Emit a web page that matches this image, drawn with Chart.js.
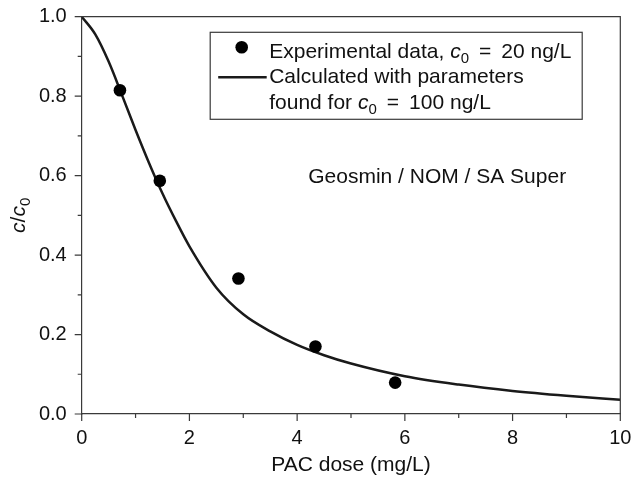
<!DOCTYPE html>
<html><head><meta charset="utf-8">
<script src="https://cdn.jsdelivr.net/npm/chart.js@4/dist/chart.umd.min.js"></script>
<style>html,body{margin:0;padding:0;background:#fff;overflow:hidden}#wrap{width:631px;height:479px}</style>
</head><body><div id="wrap"><canvas id="c" width="631" height="479"></canvas></div>
<script>
// ---- data ----
const doseExp = [0.71, 1.45, 2.91, 4.34, 5.82];
const ratioExp = [0.815, 0.587, 0.341, 0.170, 0.079];
const doseCalc = [0, 0.25, 0.5, 0.75, 1.0, 1.25, 1.5, 1.75, 2.0, 2.5, 3.0, 3.5, 4.0, 4.5, 5.0, 6.0, 7.0, 8.0, 9.0, 10.0];
const ratioCalc = [1.0, 0.956, 0.887, 0.802, 0.715, 0.632, 0.555, 0.486, 0.422, 0.318, 0.251, 0.208, 0.174, 0.148, 0.127, 0.095, 0.074, 0.058, 0.046, 0.036];
const xTicks = [0, 2, 4, 6, 8, 10];
const xMinorTicks = [1, 3, 5, 7, 9];
const yTicks = [0.0, 0.2, 0.4, 0.6, 0.8, 1.0];
const yMinorTicks = [0.1, 0.3, 0.5, 0.7, 0.9];
const xTitle = 'PAC dose (mg/L)';
const annotation = 'Geosmin / NOM / SA Super';
const annotationPos = [6.6, 0.581];

const FAMILY = '"Liberation Sans", Arial, Helvetica, sans-serif';
const AXIS = '#3a3a3a';
const INK = '#111';

function fontFor(p, size) {
  return (p.italic ? 'italic ' : '') + (p.sub ? Math.round(size * 0.72) : size) + 'px ' + FAMILY;
}
function richWidth(ctx, parts, size) {
  let w = 0;
  for (const p of parts) { ctx.font = fontFor(p, size); w += ctx.measureText(p.t).width; }
  return w;
}
function drawRich(ctx, parts, x, y, size, align) {
  const w = richWidth(ctx, parts, size);
  let cx = align === 'center' ? x - w / 2 : x;
  ctx.textAlign = 'left';
  ctx.textBaseline = 'alphabetic';
  for (const p of parts) {
    ctx.font = fontFor(p, size);
    ctx.fillText(p.t, cx, y + (p.sub ? size * 0.24 : 0));
    cx += ctx.measureText(p.t).width;
  }
}

const EQ = ' \u2009=\u2009 ';

const framePlugin = {
  id: 'frame',
  afterDraw(chart) {
    const ctx = chart.ctx;
    const ca = chart.chartArea;
    const xs = chart.scales.x, ys = chart.scales.y;
    ctx.save();
    ctx.strokeStyle = AXIS;
    ctx.lineWidth = 1.2;
    ctx.beginPath();
    ctx.moveTo(ca.left, ca.top); ctx.lineTo(ca.right, ca.top); ctx.lineTo(ca.right, ca.bottom);
    ctx.stroke();
    ctx.beginPath();
    for (const v of xTicks) { const px = xs.getPixelForValue(v); ctx.moveTo(px, ca.bottom); ctx.lineTo(px, ca.bottom + 7); }
    for (const v of xMinorTicks) { const px = xs.getPixelForValue(v); ctx.moveTo(px, ca.bottom); ctx.lineTo(px, ca.bottom + 4); }
    for (const v of yTicks) { const py = ys.getPixelForValue(v); ctx.moveTo(ca.left, py); ctx.lineTo(ca.left - 7, py); }
    for (const v of yMinorTicks) { const py = ys.getPixelForValue(v); ctx.moveTo(ca.left, py); ctx.lineTo(ca.left - 4, py); }
    ctx.stroke();

    ctx.fillStyle = INK;
    ctx.save();
    ctx.translate(25, (ca.top + ca.bottom) / 2);
    ctx.rotate(-Math.PI / 2);
    drawRich(ctx, [{t:'c', italic:true}, {t:'/'}, {t:'c', italic:true}, {t:'0', sub:true}], 0, 0, 21, 'center');
    ctx.restore();

    drawRich(ctx, [{t: annotation}], xs.getPixelForValue(annotationPos[0]), ys.getPixelForValue(annotationPos[1]), 21, 'center');

    const lx = ca.left + 128.5, ly = ca.top + 15.6;
    ctx.strokeStyle = AXIS;
    ctx.lineWidth = 1.2;
    ctx.strokeRect(lx, ly, 372, 87);
    ctx.fillStyle = '#000';
    ctx.beginPath();
    ctx.arc(ca.left + 160, ca.top + 30.5, 6.3, 0, Math.PI * 2);
    ctx.fill();
    ctx.strokeStyle = '#1a1a1a';
    ctx.lineWidth = 2.5;
    ctx.beginPath();
    ctx.moveTo(ca.left + 136.5, ca.top + 60.6); ctx.lineTo(ca.left + 185, ca.top + 60.6);
    ctx.stroke();
    ctx.fillStyle = INK;
    const tx = ca.left + 187.5;
    drawRich(ctx, [{t:'Experimental data, '}, {t:'c', italic:true}, {t:'0', sub:true}, {t: EQ + '20 ng/L'}], tx, ca.top + 41, 21, 'left');
    drawRich(ctx, [{t:'Calculated with parameters'}], tx, ca.top + 66, 21, 'left');
    drawRich(ctx, [{t:'found for '}, {t:'c', italic:true}, {t:'0', sub:true}, {t: EQ + '100 ng/L'}], tx, ca.top + 92.6, 21, 'left');
    ctx.restore();
  }
};

new Chart(document.getElementById('c'), {
  type: 'scatter',
  data: {
    datasets: [
      {
        label: 'Calculated with parameters found for c0 = 100 ng/L',
        data: doseCalc.map((x, i) => ({x: x, y: ratioCalc[i]})),
        showLine: true, borderColor: '#1a1a1a', borderWidth: 2.5, pointRadius: 0,
        cubicInterpolationMode: 'monotone', fill: false, order: 2
      },
      {
        label: 'Experimental data, c0 = 20 ng/L',
        data: doseExp.map((x, i) => ({x: x, y: ratioExp[i]})),
        showLine: false, pointRadius: 6.3, pointBackgroundColor: '#000', pointBorderColor: '#000',
        pointBorderWidth: 0, order: 1
      }
    ]
  },
  options: {
    responsive: false, animation: false, devicePixelRatio: 1,
    layout: {padding: {top: 16.7, right: 10.7, bottom: 0, left: 0}},
    plugins: {legend: {display: false}, tooltip: {enabled: false}},
    scales: {
      x: {
        type: 'linear', min: 0, max: 10,
        afterBuildTicks: s => { s.ticks = xTicks.map(v => ({value: v})); },
        afterFit: s => { s.height = 65; s.paddingLeft = 0; s.paddingRight = 0; },
        grid: {display: false, drawTicks: false},
        border: {display: true, color: AXIS, width: 1.2},
        ticks: {padding: 12, color: INK, font: {family: FAMILY, size: 20}, maxRotation: 0, autoSkip: false,
                callback: v => String(v)},
        title: {display: true, text: xTitle, color: INK, font: {family: FAMILY, size: 21}, padding: {top: 0, bottom: 1}}
      },
      y: {
        type: 'linear', min: 0, max: 1,
        afterBuildTicks: s => { s.ticks = yTicks.map(v => ({value: v})); },
        afterFit: s => { s.width = 81.7; s.paddingTop = 0; s.paddingBottom = 0; },
        grid: {display: false, drawTicks: false},
        border: {display: true, color: AXIS, width: 1.2},
        ticks: {padding: 15, color: INK, font: {family: FAMILY, size: 20}, autoSkip: false,
                callback: v => Number(v).toFixed(1)}
      }
    }
  },
  plugins: [framePlugin]
});
</script>
</body></html>
